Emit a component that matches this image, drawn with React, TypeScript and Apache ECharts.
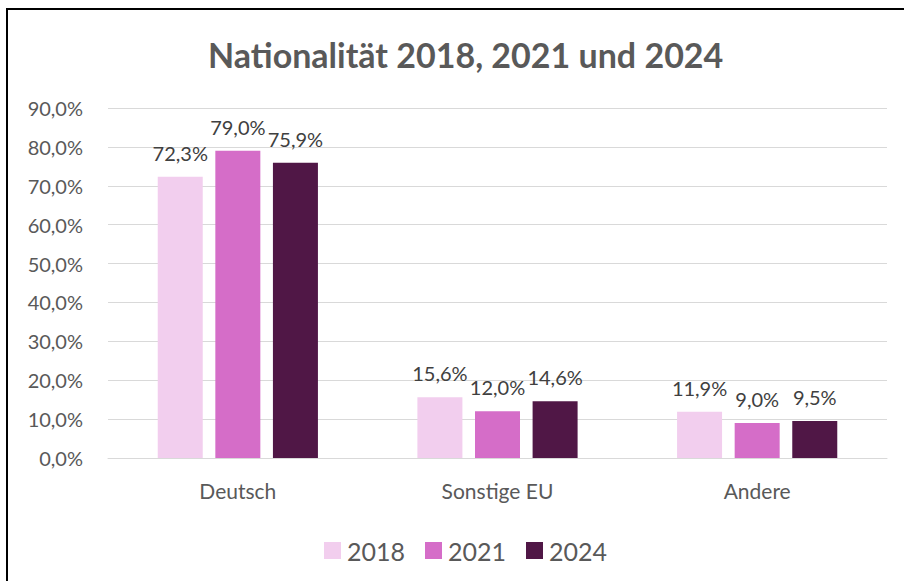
import React, { useEffect, useRef } from "react";
import * as echarts from "echarts";

const categories = ["Deutsch", "Sonstige EU", "Andere"];
const seriesNames = ["2018", "2021", "2024"];
const values2018 = [72.3, 15.6, 11.9];
const values2021 = [79.0, 12.0, 9.0];
const values2024 = [75.9, 14.6, 9.5];
const colors = ["#F2CEEE", "#D56DC8", "#501746"];

const fmt = (v: number) => v.toFixed(1).replace(".", ",") + "%";
const FONT = "Lato";

export default function App() {
  const ref = useRef<HTMLDivElement>(null);
  useEffect(() => {
    if (!ref.current) return;
    const chart = echarts.init(ref.current, null, { renderer: "svg" });
    const data = [values2018, values2021, values2024];
    chart.setOption({
      animation: false,
      backgroundColor: "#ffffff",
      title: {
        text: "Nationalität 2018, 2021 und 2024",
        left: 203,
        top: 32,
        textStyle: { fontFamily: FONT, fontWeight: "bold", fontSize: 34, color: "#595959" },
      },
      grid: { left: 108, right: 17, top: 108, bottom: 123, containLabel: false },
      legend: {
        data: seriesNames,
        bottom: 13,
        left: 319,
        itemWidth: 17,
        itemHeight: 17,
        itemGap: 20,
        icon: "rect",
        textStyle: { fontFamily: FONT, fontSize: 25, color: "#595959", padding: [0, 0, 0, 1] },
      },
      xAxis: {
        type: "category",
        data: categories,
        axisLine: { show: true, lineStyle: { color: "#D9D9D9", width: 1 } },
        axisTick: { show: false },
        axisLabel: { fontFamily: FONT, fontSize: 21, color: "#595959", margin: 22 },
      },
      yAxis: {
        type: "value",
        min: 0,
        max: 90,
        interval: 10,
        axisLine: { show: false },
        axisTick: { show: false },
        splitLine: { lineStyle: { color: "#D9D9D9", width: 1 } },
        axisLabel: {
          fontFamily: FONT,
          fontSize: 20,
          color: "#595959",
          margin: 25,
          formatter: (v: number) => fmt(v),
        },
      },
      series: seriesNames.map((name, i) => ({
        name,
        type: "bar",
        data: data[i],
        barWidth: 45,
        barGap: "28%",
        itemStyle: { color: colors[i] },
        label: {
          show: true,
          position: "top",
          distance: 14,
          fontFamily: FONT,
          fontSize: 20,
          color: "#404040",
          formatter: (p: any) => fmt(p.value),
        },
      })),
      graphic: [
        { type: "line", shape: { x1: 6, y1: 9, x2: 904, y2: 9 }, style: { stroke: "#000", lineWidth: 2 } },
        { type: "line", shape: { x1: 7, y1: 8, x2: 7, y2: 581 }, style: { stroke: "#000", lineWidth: 2 } },
      ],
    });
    return () => chart.dispose();
  }, []);
  return (
    <div
      ref={ref}
      style={{ position: "absolute", left: 0, top: 0, width: 904, height: 581 }}
    />
  );
}
